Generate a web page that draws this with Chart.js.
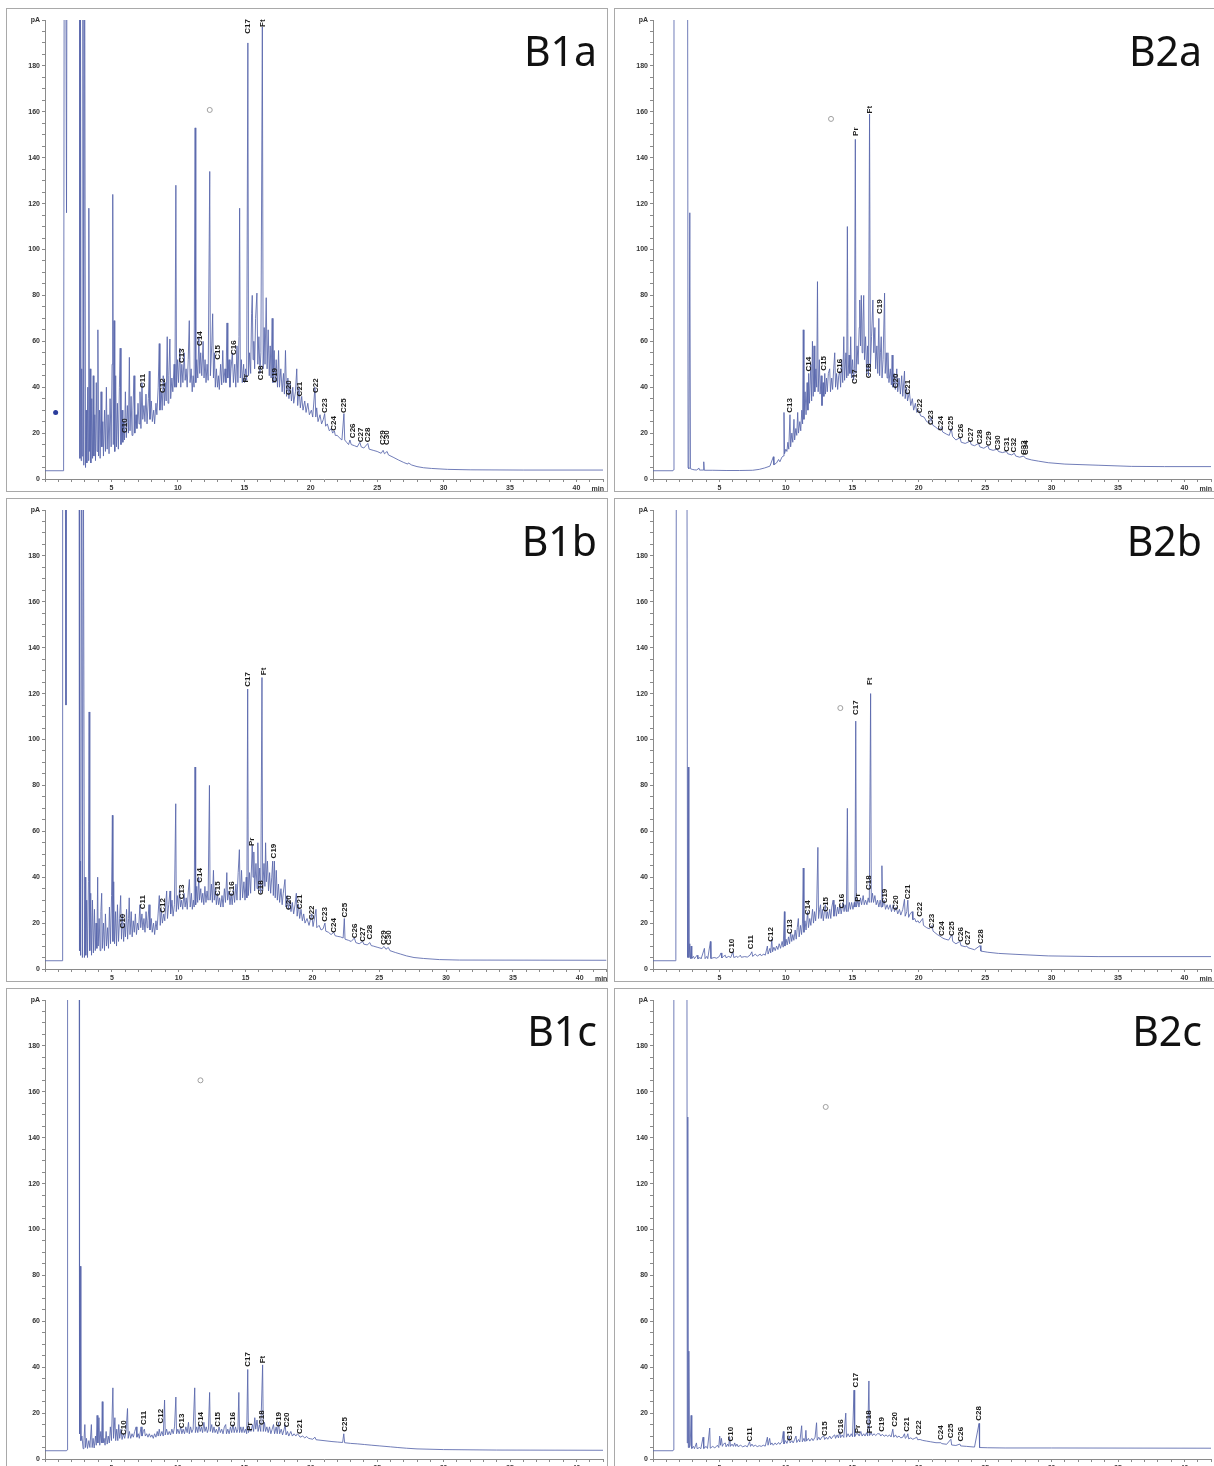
<!DOCTYPE html>
<html>
<head>
<meta charset="utf-8">
<script src="https://cdn.jsdelivr.net/npm/chart.js@4.4.1/dist/chart.umd.min.js"></script>
<style>
  html, body { margin: 0; padding: 0; background: #fff; }
  body { width: 1214px; height: 1466px; position: relative; overflow: hidden; }
  canvas { position: absolute; }
</style>
</head>
<body>
<script>
// FID traces, [retention time (min), signal (pA)]; values above 200 run off the top
const traceB1a = [
  [0,3.6],[1.40,3.6],[1.45,260],[1.55,260],[1.62,116],[1.66,260],[2.60,260],[2.63,9],[2.66,260],[2.70,260],[2.72,8],[2.76,48],[2.80,10],[2.85,260],
  [2.92,6],[2.98,260],[3.05,5],[3.10,30],[3.15,7],[3.22,40],[3.27,8],[3.30,118],[3.34,12],[3.40,48],[3.45,7],[3.52,35],[3.58,9],
  [3.63,45],[3.68,10],[3.75,28],[3.80,8],[3.86,42],[3.92,12],[3.98,65],[4.03,10],[4.10,30],[4.15,9],[4.22,38],[4.28,14],[4.35,25],
  [4.40,10],[4.48,30],[4.55,12],[4.62,40],[4.68,13],[4.75,28],[4.82,11],[4.90,35],[4.98,14],[5.05,50],[5.10,124],[5.14,15],[5.20,69],
  [5.25,12],[5.32,45],[5.38,14],[5.45,33],[5.52,13],[5.60,40],[5.66,57],[5.72,15],[5.80,30],[5.86,16],[5.92,25],[5.98,17],[6.05,38],
  [6.12,18],[6.20,32],[6.28,20],[6.35,53],[6.40,21],[6.48,36],[6.55,19],[6.62,30],[6.70,45],[6.76,20],[6.85,28],[6.92,22],[7.00,33],
  [7.08,24],[7.15,38],[7.22,22],[7.30,42],[7.36,26],[7.45,32],[7.52,25],[7.60,37],[7.68,24],[7.78,35],[7.85,47],[7.90,26],[8.00,34],
  [8.08,25],[8.18,30],[8.25,24],[8.35,33],[8.42,28],[8.52,40],[8.60,59],[8.65,30],[8.75,38],[8.82,30],[8.90,45],[8.98,32],[9.05,42],
  [9.12,34],[9.20,62],[9.26,33],[9.32,45],[9.40,61],[9.46,35],[9.55,44],[9.62,38],[9.72,50],[9.78,40],[9.85,128],[9.90,40],[9.98,52],
  [10.05,42],[10.15,57],[10.22,40],[10.30,50],[10.38,42],[10.48,55],[10.55,43],[10.62,48],[10.70,40],[10.78,52],[10.86,69],[10.92,42],
  [11.00,48],[11.08,38],[11.15,45],[11.22,40],[11.30,153],[11.35,42],[11.42,52],[11.50,44],[11.58,62],[11.65,46],[11.72,55],[11.80,45],
  [11.90,60],[11.97,44],[12.05,52],[12.12,42],[12.20,50],[12.28,43],[12.40,134],[12.45,45],[12.55,58],[12.62,72],[12.68,44],[12.75,55],
  [12.82,40],[12.90,48],[12.98,40],[13.05,45],[13.12,39],[13.22,50],[13.30,41],[13.38,56],[13.45,42],[13.55,48],[13.62,42],[13.70,68],
  [13.76,44],[13.85,52],[13.92,40],[14.00,48],[14.10,55],[14.18,42],[14.28,50],[14.36,40],[14.45,58],[14.52,42],[14.60,62],[14.65,118],
  [14.70,44],[14.78,52],[14.85,42],[14.95,50],[15.02,42],[15.10,48],[15.18,43],[15.27,190],[15.32,45],[15.40,55],[15.48,46],[15.55,72],
  [15.60,80],[15.66,52],[15.72,60],[15.78,48],[15.85,70],[15.95,81],[16.02,50],[16.10,62],[16.18,46],[16.25,55],[16.36,197],[16.42,48],
  [16.50,66],[16.56,50],[16.65,79],[16.72,48],[16.80,65],[16.88,45],[16.95,58],[17.02,44],[17.10,70],[17.16,42],[17.25,56],[17.32,42],
  [17.40,52],[17.50,40],[17.58,56],[17.65,40],[17.75,48],[17.85,38],[17.95,46],[18.02,37],[18.10,56],[18.18,36],[18.28,44],[18.36,35],
  [18.45,42],[18.55,34],[18.65,40],[18.72,33],[18.85,38],[18.95,48],[19.02,32],[19.12,40],[19.22,31],[19.32,36],[19.42,30],[19.55,34],
  [19.65,29],[19.78,33],[19.90,28],[20.05,30],[20.15,27],[20.32,40],[20.38,27],[20.45,31],[20.55,25],[20.70,28],[20.82,24],[20.95,26],
  [21.05,28.5],[21.12,23],[21.25,24],[21.40,21],[21.55,22],[21.65,20],[21.78,21],[21.85,19],[22.00,19],[22.15,18],[22.35,17],[22.50,28.5],
  [22.56,17],[22.70,16],[22.85,15],[22.95,17],[23.05,15],[23.30,14.5],[23.50,14],[23.70,16],[23.80,14],[24.00,13.5],[24.30,15.5],
  [24.40,13],[24.70,12.5],[25.00,12],[25.30,11.2],[25.45,12.5],[25.55,11],[25.75,12],[25.85,10.5],[26.20,9.5],[26.60,8.3],[27.00,7.2],
  [27.30,6.5],[27.35,7],[27.60,6.1],[28.00,5.4],[28.50,4.9],[29.10,4.6],[30.30,4.2],[32,4.0],[36,3.9],[42,3.9]
];
const peaksB1a = [
  ['C10',5.98,20],['C11',7.36,39.6],['C12',8.85,37.5],['C13',10.3,50.5],['C14',11.67,58],['C15',12.97,52],['C16',14.2,54],
  ['C17',15.27,194],['Ft',16.38,197],['Pr',15.13,42],['C18',16.28,43],['C19',17.3,42],['C20',18.33,36.6],['C21',19.2,36],
  ['C22',20.37,37.5],['C23',21.07,28.8],['C24',21.77,21],['C25',22.52,28.8],['C26',23.18,17.8],['C27',23.76,16],['C28',24.3,16],
  ['C29',25.43,14.8],['C30',25.75,14.8]
];
const markersB1a = [[12.4,160.8]];
const dotsB1a = [[0.8,29]];

const traceB1b = [
  [0,3.6],[1.28,3.6],[1.32,260],[1.50,260],[1.57,115],[1.62,260],[2.55,260],[2.58,8],[2.62,47],[2.66,6],[2.72,260],[2.80,5],[2.86,260],
  [2.95,5],[3.00,40],[3.05,6],[3.12,30],[3.18,5],[3.25,38],[3.30,112],[3.35,8],[3.42,33],[3.48,6],[3.55,30],[3.62,7],[3.70,26],[3.76,8],
  [3.82,20],[3.88,9],[3.94,40],[3.98,10],[4.05,22],[4.12,8],[4.18,25],[4.24,33],[4.30,9],[4.38,20],[4.45,8],[4.52,24],[4.60,10],[4.68,18],
  [4.75,9],[4.82,27],[4.90,11],[4.98,32],[5.04,67],[5.08,12],[5.14,38],[5.20,11],[5.28,25],[5.35,10],[5.42,28],[5.50,12],[5.58,22],
  [5.66,32],[5.72,13],[5.80,24],[5.88,12],[5.95,20],[6.02,14],[6.10,26],[6.18,13],[6.25,22],[6.30,31],[6.36,15],[6.45,25],[6.52,14],
  [6.60,21],[6.68,16],[6.76,24],[6.84,15],[6.92,20],[7.00,17],[7.10,28],[7.16,18],[7.25,24],[7.32,17],[7.40,22],[7.48,16],[7.56,25],
  [7.64,18],[7.70,21],[7.78,28],[7.85,17],[7.95,22],[8.02,16],[8.12,20],[8.20,15],[8.30,21],[8.38,17],[8.46,24],[8.55,32],[8.62,19],
  [8.70,26],[8.78,20],[8.88,24],[8.96,21],[9.05,30],[9.10,34],[9.16,22],[9.25,28],[9.35,34],[9.40,24],[9.50,30],[9.58,23],[9.68,28],
  [9.78,72],[9.82,25],[9.90,32],[9.98,26],[10.06,35],[10.14,27],[10.22,30],[10.30,26],[10.40,33],[10.48,27],[10.56,31],[10.64,26],
  [10.72,34],[10.80,39],[10.86,27],[10.95,33],[11.02,26],[11.10,30],[11.16,27],[11.22,88],[11.27,28],[11.35,36],[11.42,29],[11.50,40],
  [11.56,30],[11.65,35],[11.72,29],[11.80,33],[11.88,28],[11.96,36],[12.04,29],[12.12,34],[12.20,30],[12.30,80],[12.35,30],[12.45,37],
  [12.52,29],[12.60,43],[12.66,30],[12.74,35],[12.82,28],[12.90,33],[12.98,28],[13.06,31],[13.14,27],[13.24,32],[13.32,27],[13.42,35],
  [13.50,29],[13.60,42],[13.66,30],[13.75,34],[13.84,28],[13.92,33],[14.00,28],[14.10,35],[14.18,29],[14.28,37],[14.36,30],[14.45,42],
  [14.54,52],[14.60,30],[14.70,43],[14.78,31],[14.88,38],[14.96,30],[15.05,40],[15.10,31],[15.16,122],[15.21,32],[15.30,42],[15.38,33],
  [15.50,54],[15.56,40],[15.62,51],[15.68,34],[15.78,46],[15.86,35],[15.92,55],[15.98,34],[16.06,44],[16.14,33],[16.23,127],[16.28,34],
  [16.38,46],[16.45,36],[16.50,55],[16.56,38],[16.64,47],[16.72,34],[16.80,42],[16.88,33],[16.96,40],[17.03,47],[17.08,32],[17.16,47],
  [17.22,31],[17.30,43],[17.38,30],[17.46,37],[17.55,29],[17.65,35],[17.74,28],[17.82,33],[17.95,39],[18.02,27],[18.12,32],[18.20,26],
  [18.30,30],[18.40,25],[18.50,29],[18.60,24],[18.70,28],[18.80,33],[18.86,23],[18.96,28],[19.05,22],[19.15,26],[19.25,21],[19.35,24],
  [19.45,20],[19.60,22],[19.75,19],[19.95,24],[20.05,18.5],[20.27,26],[20.33,18],[20.50,19],[20.65,17],[20.80,17.5],[20.94,20],
  [21.00,16.5],[21.20,16],[21.40,15],[21.60,16],[21.70,14.5],[21.90,14.2],[22.10,14],[22.30,13.5],[22.39,22],[22.44,13],[22.70,12.5],
  [22.90,12],[23.14,13.5],[23.25,11.5],[23.50,11],[23.76,12],[23.85,10.8],[24.10,10.5],[24.30,11.5],[24.40,10.2],[24.55,10],[24.90,9.4],
  [25.20,8.9],[25.36,9.8],[25.50,8.6],[25.68,9.4],[25.80,8],[26.20,7.2],[26.60,6.5],[27.05,5.7],[27.60,5.0],[28.30,4.6],[29.50,4.1],
  [31,3.9],[42,3.8]
];
const peaksB1b = [
  ['C10',5.81,17.7],['C11',7.3,26],['C12',8.8,24.5],['C13',10.22,30.4],['C14',11.55,37.6],['C15',12.92,31.8],['C16',14.0,31.8],
  ['C17',15.16,123],['Pr',15.5,53.6],['Ft',16.33,128],['C18',16.16,32.2],['C19',17.13,48.2],['C20',18.2,25.7],['C21',19.08,26],
  ['C22',19.95,21.3],['C23',20.94,20.6],['C24',21.6,15.8],['C25',22.39,22.4],['C26',23.14,13.4],['C27',23.76,11.9],['C28',24.26,12.9],
  ['C29',25.36,10.5],['C30',25.68,10.5]
];

const traceB2a = [
  [0,3.6],[1.50,3.6],[1.55,4],[1.58,260],[2.60,260],[2.64,5],[2.70,4.5],[2.77,116],[2.82,4.5],[2.95,4.2],[3.10,4],[3.30,3.9],[3.45,4.8],
  [3.50,3.9],[3.78,3.9],[3.82,7.5],[3.86,3.8],[4.5,3.8],[5.5,3.7],[6.5,3.7],[7.5,3.8],[8.0,4.2],[8.4,4.8],[8.8,5.6],[9.06,9.7],[9.10,6.2],
  [9.30,7],[9.45,8.5],[9.55,7.5],[9.70,9.5],[9.80,10],[9.86,29],[9.90,11],[10.00,13],[10.08,12],[10.15,16],[10.22,13],[10.31,28],
  [10.36,14],[10.45,20],[10.52,16],[10.61,26],[10.66,17],[10.75,22],[10.82,19],[10.89,29],[10.95,20],[11.05,25],[11.12,21],[11.20,30],
  [11.26,24],[11.31,65],[11.36,26],[11.45,38],[11.52,28],[11.60,42],[11.66,30],[11.72,46],[11.78,33],[11.88,50],[11.94,34],[12.00,60],
  [12.06,36],[12.12,58],[12.18,38],[12.26,48],[12.32,40],[12.38,86],[12.43,38],[12.52,52],[12.58,37],[12.66,45],[12.72,32],[12.80,42],
  [12.86,36],[12.93,46],[12.98,37],[13.06,44],[13.12,38],[13.20,46],[13.30,48],[13.36,38],[13.45,44],[13.52,39],[13.60,48],[13.68,55],
  [13.74,40],[13.82,46],[13.90,39],[13.98,45],[14.06,47],[14.12,40],[14.20,52],[14.28,42],[14.36,62],[14.42,43],[14.52,55],[14.58,44],
  [14.63,110],[14.68,45],[14.76,54],[14.82,46],[14.88,62],[14.94,44],[15.02,52],[15.10,43],[15.16,48],[15.23,148],[15.28,46],[15.36,58],
  [15.44,50],[15.52,66],[15.56,78],[15.62,58],[15.68,80],[15.74,55],[15.80,68],[15.86,80],[15.92,52],[16.00,62],[16.08,46],[16.15,58],
  [16.22,45],[16.30,159],[16.36,48],[16.45,62],[16.55,78],[16.62,55],[16.70,66],[16.76,48],[16.85,58],[16.92,46],[17.00,70],[17.06,45],
  [17.12,55],[17.18,62],[17.24,44],[17.32,52],[17.43,81],[17.48,46],[17.56,55],[17.62,44],[17.68,55],[17.76,42],[17.86,48],[17.94,41],
  [18.00,54],[18.06,40],[18.15,46],[18.24,39],[18.35,48],[18.42,38],[18.52,44],[18.62,37],[18.72,45],[18.80,36],[18.93,47],[18.98,35],
  [19.08,40],[19.16,34],[19.30,38],[19.40,32],[19.52,35],[19.62,30],[19.75,33],[19.85,29],[20.00,30],[20.15,27.5],[20.40,27],[20.60,25],
  [20.80,24.5],[20.95,27],[21.05,23.5],[21.30,22.5],[21.50,21.5],[21.70,22.5],[21.80,20.5],[22.10,19.5],[22.30,19],[22.45,22],[22.55,18.5],
  [22.80,17],[23.10,18],[23.20,16],[23.50,15.5],[23.87,16.5],[23.95,15],[24.20,14.5],[24.50,15.5],[24.60,14],[24.90,13.4],[25.20,14.5],
  [25.30,13],[25.60,12.5],[25.90,13],[26.00,12],[26.30,11.5],[26.60,12],[26.70,11],[27.00,10.5],[27.20,11.2],[27.30,10],[27.60,9.5],
  [27.90,10],[28.05,9],[28.50,8.3],[29.00,7.8],[29.75,7.1],[31,6.5],[33.5,6],[36,5.5],[38.5,5.4],[42,5.4]
];
const peaksB2a = [
  ['C13',10.31,28.9],['C14',11.69,46.8],['C15',12.88,47.2],['C16',14.06,46],['C17',15.18,41.4],['Pr',15.25,149.5],['Ft',16.3,159.3],
  ['C18',16.25,43.9],['C19',17.05,71.9],['C20',18.3,39.5],['C21',19.18,36.8],['C22',20.05,28.6],['C23',20.93,23.5],['C24',21.67,21],
  ['C25',22.45,21],['C26',23.2,17.7],['C27',23.94,16],['C28',24.62,15.1],['C29',25.24,14.4],['C30',25.92,12.6],['C31',26.62,11.9],
  ['C32',27.19,11.6],['C33',27.9,10.5],['C34',28.05,10.5]
];
const markersB2a = [[13.4,156.9]];

const traceB2b = [
  [0,3.6],[1.70,3.6],[1.72,4],[1.76,260],[2.55,260],[2.60,5],[2.65,88],[2.70,5],[2.77,11],[2.82,4.5],[2.87,10],[2.92,4.6],[3.05,5.5],
  [3.12,4.5],[3.32,6],[3.38,4.5],[3.55,5],[3.62,4.4],[3.87,9],[3.92,4.5],[4.05,5.5],[4.12,4.5],[4.32,12],[4.36,4.6],[4.60,5],[4.80,4.7],
  [5.00,5.5],[5.12,7],[5.18,4.8],[5.30,5.5],[5.44,6],[5.50,4.9],[5.70,5.5],[5.85,5],[6.02,7.5],[6.08,5],[6.30,5.5],[6.40,5],[6.57,6],
  [6.65,5.1],[6.90,5.4],[7.10,5.2],[7.30,6],[7.44,7.5],[7.50,5.5],[7.70,6.5],[7.85,5.6],[8.07,6.5],[8.15,5.8],[8.35,6.5],[8.45,6],
  [8.61,10],[8.66,6.5],[8.80,9],[8.86,7],[8.94,13],[9.00,7.5],[9.10,9.5],[9.20,8],[9.30,10],[9.40,8.5],[9.50,11],[9.60,9],[9.72,12],
  [9.80,9.5],[9.89,25],[9.93,10],[10.02,13],[10.10,10.5],[10.20,14],[10.28,11],[10.36,16],[10.44,12],[10.52,15],[10.60,12.5],[10.70,17],
  [10.78,13],[10.86,18],[10.94,22],[11.00,14],[11.10,19],[11.18,15],[11.25,20],[11.31,44],[11.36,16],[11.44,21],[11.52,17],[11.64,25],
  [11.70,18],[11.80,22],[11.88,19],[12.01,26],[12.08,20],[12.16,25],[12.24,21],[12.32,27],[12.41,53],[12.46,22],[12.54,26],[12.61,28],
  [12.66,22],[12.75,26],[12.82,21],[12.90,25],[12.98,28],[13.04,22],[13.12,25],[13.20,22],[13.30,26],[13.38,22],[13.46,27],[13.56,30],
  [13.62,23],[13.72,28],[13.80,23],[13.90,27],[13.98,24],[14.08,28],[14.16,24],[14.31,29],[14.38,25],[14.46,28],[14.56,25],[14.63,70],
  [14.68,25],[14.78,29],[14.86,26],[14.95,29],[15.05,26],[15.15,29],[15.20,27],[15.26,108],[15.31,27],[15.43,30],[15.50,27],[15.62,31],
  [15.70,28],[15.82,32],[15.90,28],[16.00,30],[16.10,28],[16.20,31],[16.28,29],[16.38,120],[16.43,29],[16.52,33],[16.60,29],[16.70,32],
  [16.80,28],[16.90,30],[17.00,27],[17.10,30],[17.17,27],[17.23,45],[17.28,27],[17.40,30],[17.50,26],[17.62,28],[17.72,26],[17.85,28],
  [17.95,25],[18.08,28],[18.18,25],[18.30,27],[18.42,24],[18.55,26],[18.65,23.5],[18.80,26],[18.93,30.4],[18.98,23],[19.10,25],
  [19.18,30],[19.24,22.5],[19.35,24],[19.50,25],[19.56,21.5],[19.70,22],[19.80,20.5],[19.95,21],[20.05,20],[20.30,22],[20.36,19],
  [20.60,18],[20.80,17.5],[21.00,19],[21.08,16.5],[21.40,15],[21.70,14],[21.78,13.5],[22.00,13],[22.25,12.6],[22.50,15],[22.56,12],
  [22.80,11],[23.10,12],[23.18,10.2],[23.50,9.7],[23.62,10],[23.70,9.3],[24.20,8.4],[24.62,10.2],[24.68,7.8],[25.20,7.3],[26.00,6.8],
  [27.25,6.4],[29.75,5.7],[33.5,5.4],[42,5.4]
];
const peaksB2b = [
  ['C10',5.94,6.8],['C11',7.39,8.6],['C12',8.86,11.9],['C13',10.31,15.3],['C14',11.64,23.5],['C15',13.0,25],['C16',14.18,26.4],
  ['C17',15.3,110.7],['Pr',15.43,29.3],['Ft',16.35,123.7],['C18',16.25,34.4],['C19',17.43,28.6],['C20',18.3,25.7],['C21',19.18,30.4],
  ['C22',20.05,22.8],['C23',21.0,17.7],['C24',21.75,14.4],['C25',22.5,14.4],['C26',23.2,11.9],['C27',23.67,10.5],['C28',24.67,10.9]
];
const markersB2b = [[14.1,113.7]];

const traceB1c = [
  [0,3.6],[1.62,3.6],[1.66,4],[1.70,260],[2.57,260],[2.60,11],[2.65,84],[2.70,8],[2.78,10],[2.87,4.5],[2.93,8],[3.00,15],[3.05,5],
  [3.12,9],[3.20,4.6],[3.30,8],[3.38,5],[3.49,15],[3.55,5],[3.62,9],[3.70,4.8],[3.80,10],[3.86,6],[3.92,19],[3.98,7],[4.06,18],[4.12,6],
  [4.20,12],[4.26,7],[4.31,25],[4.36,7],[4.45,9],[4.52,6],[4.60,12],[4.68,6.5],[4.76,10],[4.84,7],[4.92,14],[5.00,8],[5.11,31],[5.16,9],
  [5.26,18],[5.32,8],[5.40,13],[5.48,8],[5.55,15],[5.62,9],[5.72,13],[5.80,8.5],[5.90,11],[6.00,9],[6.10,12],[6.21,22],[6.26,9],[6.35,12],
  [6.45,9],[6.55,11],[6.65,9.5],[6.75,12],[6.86,14],[6.92,9.5],[7.02,11],[7.10,9],[7.23,14],[7.30,10],[7.40,12],[7.48,13],[7.55,10],
  [7.65,11],[7.75,9.5],[7.85,11],[7.95,9.5],[8.05,10.5],[8.15,9],[8.25,11],[8.35,9.5],[8.45,12],[8.52,10],[8.60,13],[8.68,10],[8.80,12],
  [8.90,10],[9.00,25.7],[9.05,10.5],[9.15,13],[9.25,10.5],[9.35,12],[9.45,10.5],[9.55,13],[9.65,11],[9.75,14],[9.85,27],[9.90,11],
  [10.00,13],[10.10,11],[10.22,14],[10.30,11],[10.40,13],[10.50,11],[10.60,14],[10.70,11.5],[10.80,16],[10.86,11],[10.96,14],[11.05,11.5],
  [11.15,13],[11.27,31],[11.32,11.5],[11.42,14],[11.50,11.5],[11.60,15],[11.68,12],[11.78,14],[11.86,11.5],[11.96,16],[12.04,12],
  [12.14,14],[12.22,11.5],[12.30,13],[12.39,29],[12.44,12],[12.55,15],[12.62,11.5],[12.72,14],[12.80,11.5],[12.90,13],[13.00,11],
  [13.10,14],[13.20,11.5],[13.30,13],[13.40,11],[13.50,14],[13.60,15],[13.66,11],[13.76,13],[13.86,11],[13.96,14],[14.05,11.5],[14.15,15],
  [14.24,11.5],[14.34,14],[14.44,11.5],[14.52,13],[14.59,29],[14.64,11.5],[14.74,14],[14.82,11.5],[14.92,14],[15.00,11.5],[15.10,13],
  [15.18,11],[15.26,39],[15.31,11.5],[15.42,13],[15.50,12],[15.62,15],[15.70,12],[15.79,18],[15.86,13],[15.96,17],[16.04,12],[16.14,15],
  [16.24,12],[16.38,41],[16.43,12],[16.52,16],[16.60,12],[16.70,14],[16.80,11.5],[16.90,14],[17.00,11],[17.10,13],[17.20,15],[17.28,11],
  [17.40,14],[17.48,11],[17.58,16],[17.66,11],[17.78,13],[17.88,10.5],[18.00,13],[18.08,15],[18.14,10.5],[18.25,12],[18.35,10],[18.50,12],
  [18.62,10],[18.75,11],[18.88,10],[19.00,11],[19.08,10.5],[19.20,9.5],[19.40,10],[19.55,9.2],[19.70,9.8],[19.83,9],[20.00,8.8],
  [20.15,8.6],[20.32,9.5],[20.40,8.4],[20.70,8.2],[21.00,8],[21.30,7.8],[21.60,7.6],[22.00,7.4],[22.40,7.2],[22.49,11],[22.55,7.1],
  [23.00,6.8],[23.50,6.6],[24.06,6.3],[24.60,6],[25.20,5.7],[26.00,5.3],[26.56,5],[27.20,4.7],[28.00,4.4],[30.00,4.1],[34,3.9],[42,3.8]
];
const peaksB1c = [
  ['C10',5.91,10.5],['C11',7.41,14.8],['C12',8.73,15.5],['C13',10.3,13.4],['C14',11.72,14.1],['C15',12.99,14.1],['C16',14.16,14.1],
  ['C17',15.29,40.2],['Pr',15.39,12.3],['Ft',16.38,41.7],['C18',16.33,14.8],['C19',17.58,14.1],['C20',18.23,13.8],['C21',19.2,10.9],
  ['C25',22.57,11.9]
];
const markersB1c = [[11.7,165]];

const traceB2c = [
  [0,3.6],[1.50,3.6],[1.54,4],[1.57,260],[2.55,260],[2.58,7],[2.62,149],[2.66,5],[2.70,47],[2.74,5],[2.80,6],[2.87,19],[2.92,4.6],
  [3.05,5.5],[3.12,4.5],[3.27,7],[3.32,4.5],[3.50,5],[3.60,4.5],[3.77,9.5],[3.82,4.6],[4.00,5.5],[4.10,4.6],[4.27,13.5],[4.31,4.7],
  [4.50,5.5],[4.65,4.8],[4.85,6],[4.95,5],[5.02,10],[5.08,6],[5.15,9],[5.22,5.5],[5.30,6.5],[5.44,7],[5.50,5.3],[5.62,6.5],[5.70,5.5],
  [5.77,9.5],[5.83,5.5],[5.95,6.5],[6.05,5.5],[6.15,7],[6.22,5.5],[6.32,6.5],[6.40,5.4],[6.60,6],[6.75,5.3],[6.95,5.8],[7.10,5.3],
  [7.27,7.5],[7.34,5.5],[7.45,6.5],[7.55,5.5],[7.70,6],[7.85,5.4],[8.00,5.8],[8.15,5.5],[8.30,6],[8.45,5.6],[8.61,9.5],[8.66,6],[8.78,9],
  [8.85,6.2],[8.95,7],[9.05,6],[9.20,7],[9.30,6.2],[9.45,7.2],[9.55,6.4],[9.70,7.5],[9.81,12],[9.86,6.6],[9.98,8],[10.08,6.8],[10.18,8.5],
  [10.26,10],[10.32,7],[10.45,8],[10.55,7],[10.66,8.5],[10.76,10],[10.82,7.2],[10.95,8.5],[11.05,7.4],[11.19,14.5],[11.24,7.5],[11.36,9],
  [11.44,7.6],[11.51,12.5],[11.56,7.8],[11.70,9],[11.80,7.8],[11.95,9],[12.05,8],[12.20,9.5],[12.31,15.8],[12.36,8.2],[12.48,9.5],
  [12.58,8.3],[12.70,9.5],[12.86,10],[12.92,8.5],[13.05,9.5],[13.15,8.6],[13.30,10],[13.42,8.8],[13.56,10],[13.68,10.5],[13.74,9],
  [13.86,10.5],[13.96,9.2],[14.06,12],[14.12,9.3],[14.24,10.5],[14.36,9.4],[14.51,20],[14.56,9.5],[14.68,11],[14.80,9.6],[14.92,11],
  [15.02,9.7],[15.13,30],[15.18,9.8],[15.30,11],[15.43,11],[15.52,10],[15.64,12],[15.74,10],[15.86,11],[15.96,10],[16.08,11.5],
  [16.16,10],[16.25,34],[16.30,10.2],[16.42,11.5],[16.52,10.2],[16.64,11],[16.76,10.2],[16.90,11],[17.05,11],[17.14,10],[17.26,10.8],
  [17.40,9.9],[17.55,10.5],[17.66,9.8],[17.80,10.5],[17.92,9.6],[18.05,13],[18.12,9.5],[18.25,10.5],[18.36,9.4],[18.52,10],[18.65,9.2],
  [18.80,9.5],[18.93,11],[18.99,9],[19.10,9.6],[19.18,11],[19.24,8.8],[19.40,9.2],[19.55,8.6],[19.70,9],[19.85,9.5],[19.92,8.4],
  [20.10,8.5],[20.30,8.1],[20.60,7.8],[20.90,7.5],[21.30,7.1],[21.67,7.1],[21.74,6.7],[22.10,6.4],[22.42,8.6],[22.48,6.1],[22.80,5.9],
  [23.10,6.5],[23.16,5.7],[23.60,5.5],[24.20,5.2],[24.54,15.5],[24.58,5],[25.20,4.9],[26.50,4.8],[30,4.8],[42,4.7]
];
const peaksB2c = [
  ['C10',5.82,7.6],['C11',7.32,7.6],['C13',10.26,8],['C15',12.93,10],['C16',14.11,10.9],['C17',15.23,31.2],['Pr',15.43,11.2],
  ['Ft',16.3,11.2],['C18',16.23,14.8],['C19',17.25,11.9],['C20',18.18,14.1],['C21',19.1,11.9],['C22',20.0,10.5],['C24',21.67,8.3],
  ['C25',22.42,9],['C26',23.17,7.6],['C28',24.54,16.7]
];
const markersB2c = [[13.0,153.4]];

const panels = [
  { title: 'B1a', left: 6,   top: 8,   trace: traceB1a, peaks: peaksB1a, markers: markersB1a, dots: dotsB1a },
  { title: 'B2a', left: 614, top: 8,   trace: traceB2a, peaks: peaksB2a, markers: markersB2a, dots: [] },
  { title: 'B1b', left: 6,   top: 498, trace: traceB1b, peaks: peaksB1b, markers: [], dots: [] },
  { title: 'B2b', left: 614, top: 498, trace: traceB2b, peaks: peaksB2b, markers: markersB2b, dots: [] },
  { title: 'B1c', left: 6,   top: 988, trace: traceB1c, peaks: peaksB1c, markers: markersB1c, dots: [] },
  { title: 'B2c', left: 614, top: 988, trace: traceB2c, peaks: peaksB2c, markers: markersB2c, dots: [] }
];

const W = 602, H = 484;
const tickFont = { family: '"Liberation Sans", Arial, sans-serif', size: 7, weight: 'bold' };

// frame, peak names, "min" and the sample name
function decor(panel) {
  return {
    id: 'decor',
    beforeDraw(chart) {
      const ctx = chart.ctx;
      ctx.save();
      ctx.fillStyle = '#fff';
      ctx.fillRect(0, 0, chart.width, chart.height);
      ctx.strokeStyle = '#a9a9a9';
      ctx.lineWidth = 1;
      ctx.strokeRect(0.5, 0.5, chart.width - 1, chart.height - 1);
      ctx.restore();
    },
    afterDatasetsDraw(chart) {
      const ctx = chart.ctx;
      const x = chart.scales.x, y = chart.scales.y;
      ctx.save();
      ctx.fillStyle = '#1a1a1a';
      ctx.font = 'bold 8px "Liberation Sans", Arial, sans-serif';
      ctx.textAlign = 'left';
      ctx.textBaseline = 'middle';
      panel.peaks.forEach(p => {
        ctx.save();
        ctx.translate(x.getPixelForValue(p[1]), y.getPixelForValue(p[2]));
        ctx.rotate(-Math.PI / 2);
        ctx.fillText(p[0], 0, 0);
        ctx.restore();
      });
      ctx.font = 'bold 7px "Liberation Sans", Arial, sans-serif';
      ctx.fillStyle = '#333';
      ctx.textAlign = 'center';
      ctx.fillText('min', x.getPixelForValue(41.6), chart.chartArea.bottom + 10);
      ctx.font = '41px "Noto Sans", sans-serif';
      ctx.fillStyle = '#111';
      ctx.textAlign = 'right';
      ctx.textBaseline = 'alphabetic';
      ctx.fillText(panel.title, panel.left < 300 ? 591 : 588, 58);
      ctx.restore();
    }
  };
}

panels.forEach(panel => {
  const canvas = document.createElement('canvas');
  canvas.width = W;
  canvas.height = H;
  canvas.style.left = panel.left + 'px';
  canvas.style.top = panel.top + 'px';
  canvas.style.width = W + 'px';
  canvas.style.height = H + 'px';
  document.body.appendChild(canvas);

  new Chart(canvas.getContext('2d'), {
    type: 'line',
    data: {
      datasets: [
        {
          data: panel.trace.map(p => ({ x: p[0], y: p[1] })),
          borderColor: 'rgba(88, 102, 172, 0.85)',
          borderWidth: 1,
          pointRadius: 0,
          tension: 0,
          fill: false
        },
        {
          type: 'scatter',
          data: panel.markers.map(p => ({ x: p[0], y: p[1] })),
          pointRadius: 2.5,
          pointBorderWidth: 1,
          pointBorderColor: '#a0a0a0',
          pointBackgroundColor: '#fff'
        },
        {
          type: 'scatter',
          data: panel.dots.map(p => ({ x: p[0], y: p[1] })),
          pointRadius: 2.5,
          pointBorderWidth: 0,
          pointBackgroundColor: '#2a3c9c'
        }
      ]
    },
    options: {
      responsive: false,
      animation: false,
      events: [],
      layout: { padding: { top: 12, right: 1.5, bottom: 0, left: 0 } },
      plugins: { legend: { display: false }, tooltip: { enabled: false } },
      scales: {
        x: {
          type: 'linear',
          min: 0,
          max: 42,
          afterFit(scale) {
            scale.height = 13;
            scale.paddingLeft = 0;
            scale.paddingRight = 0;
          },
          ticks: {
            stepSize: 1,
            autoSkip: false,
            maxRotation: 0,
            padding: 2,
            font: tickFont,
            color: '#333',
            callback: v => (v % 5 === 0 && v > 0 && v <= 40 ? v : '')
          },
          grid: { drawOnChartArea: false, drawTicks: true, tickLength: 3, color: '#8a8a8a' },
          border: { color: '#8a8a8a' }
        },
        y: {
          min: 0,
          max: 200,
          afterFit(scale) {
            scale.width = 39;
            scale.paddingTop = 0;
            scale.paddingBottom = 0;
          },
          ticks: {
            stepSize: 5,
            autoSkip: false,
            padding: 2,
            font: tickFont,
            color: '#333',
            callback: v => (v === 200 ? 'pA' : (v % 20 === 0 ? v : ''))
          },
          grid: { drawOnChartArea: false, drawTicks: true, tickLength: 3, color: '#8a8a8a' },
          border: { color: '#8a8a8a' }
        }
      }
    },
    plugins: [decor(panel)]
  });
});
</script>
</body>
</html>
